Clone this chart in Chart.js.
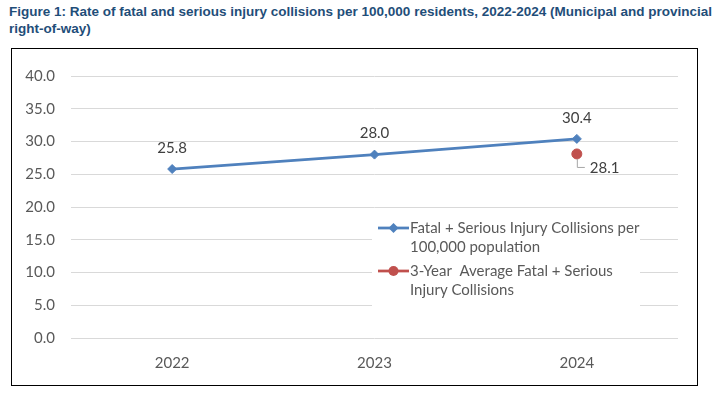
<!DOCTYPE html>
<html>
<head>
<meta charset="UTF-8">
<title>Figure 1</title>
<script src="https://cdn.jsdelivr.net/npm/chart.js"></script>
<style>
  body { margin: 0; background: #fff; }
  #title {
    position: absolute; left: 9px; top: 3px; width: 716px;
    font: bold 13.5px "Liberation Sans", Arial, sans-serif;
    color: #1F4E79; line-height: 17px;
  }
  #box {
    position: absolute; left: 11px; top: 48px;
    width: 685px; height: 336px; border: 1px solid #000;
  }
  canvas { display: block; }
</style>
</head>
<body>
<div id="title">Figure 1: Rate of fatal and serious injury collisions per 100,000 residents, 2022-2024 (Municipal and provincial<br>right-of-way)</div>
<div id="box"><canvas id="myChart" width="685" height="336"></canvas></div>

<script>
const years = ["2022", "2023", "2024"];
const rateValues = [25.8, 28.0, 30.4];
const averageValues = [null, null, 28.1];
const yTicks = [0, 5, 10, 15, 20, 25, 30, 35, 40];
const seriesNames = [
  ["Fatal + Serious Injury Collisions per", "100,000 population"],
  ["3-Year  Average Fatal + Serious", "Injury Collisions"]
];

const blue = "#4F81BD";
const red = "#C0504D";
const textGrey = "#595959";
const font = "Lato, 'Open Sans', sans-serif";

// value labels (no datalabels plugin available)
const valueLabels = {
  id: "valueLabels",
  afterDatasetsDraw(chart) {
    const ctx = chart.ctx;
    ctx.save();
    ctx.font = "15px " + font;
    ctx.fillStyle = "#404040";
    ctx.textAlign = "center";
    ctx.textBaseline = "middle";
    chart.getDatasetMeta(0).data.forEach((pt, i) => {
      ctx.fillText(rateValues[i].toFixed(1), pt.x, pt.y - 21);
    });
    chart.getDatasetMeta(1).data.forEach((pt, i) => {
      if (averageValues[i] == null) return;
      ctx.strokeStyle = "#A6A6A6";
      ctx.lineWidth = 1;
      ctx.beginPath();
      ctx.moveTo(pt.x + 0.5, pt.y + 5);
      ctx.lineTo(pt.x + 0.5, pt.y + 13.5);
      ctx.lineTo(pt.x + 8, pt.y + 13.5);
      ctx.stroke();
      ctx.textAlign = "left";
      ctx.fillText(averageValues[i].toFixed(1), pt.x + 13, pt.y + 14);
    });
    ctx.restore();
  }
};

// legend sitting inside the plot, with white background
const insideLegend = {
  id: "insideLegend",
  afterDraw(chart) {
    const ctx = chart.ctx;
    const a = chart.chartArea;
    const x = a.left + 307;
    const y = a.top + 152;
    ctx.save();
    ctx.fillStyle = "#fff";
    ctx.fillRect(x - 6, y - 16, 268, 95);
    ctx.font = "15px " + font;
    ctx.textBaseline = "middle";
    ctx.textAlign = "left";
    const colors = [blue, red];
    seriesNames.forEach((lines, k) => {
      const ly = y + k * 43;
      ctx.strokeStyle = colors[k];
      ctx.lineWidth = 2.75;
      ctx.beginPath();
      ctx.moveTo(x, ly);
      ctx.lineTo(x + 31, ly);
      ctx.stroke();
      ctx.fillStyle = colors[k];
      ctx.beginPath();
      if (k) ctx.arc(x + 15.5, ly, 5, 0, Math.PI * 2);
      else { ctx.moveTo(x + 15.5, ly - 5); ctx.lineTo(x + 20.5, ly); ctx.lineTo(x + 15.5, ly + 5); ctx.lineTo(x + 10.5, ly); }
      ctx.fill();
      ctx.fillStyle = textGrey;
      lines.forEach((t, j) => ctx.fillText(t, x + 32, ly + j * 19));
    });
    ctx.restore();
  }
};

new Chart(document.getElementById("myChart"), {
  type: "line",
  data: {
    labels: years,
    datasets: [{
      label: seriesNames[0].join(" "),
      data: rateValues,
      borderColor: blue,
      backgroundColor: blue,
      borderWidth: 2.75,
      pointStyle: "rectRot",
      pointRadius: 4.5,
      pointBorderWidth: 1
    }, {
      label: seriesNames[1].join(" "),
      data: averageValues,
      borderColor: red,
      backgroundColor: red,
      showLine: false,
      pointStyle: "circle",
      pointRadius: 5,
      pointBorderWidth: 1
    }]
  },
  options: {
    responsive: false,
    animation: false,
    layout: { padding: { top: 27, left: 8, right: 19, bottom: 5 } },
    plugins: { legend: { display: false }, tooltip: { enabled: false } },
    scales: {
      y: {
        min: 0, max: 40,
        afterBuildTicks: (s) => { s.ticks = yTicks.map(v => ({ value: v })); },
        afterFit: (s) => { s.width = 51; },
        border: { display: false },
        grid: { color: "#D9D9D9", drawTicks: false },
        ticks: {
          padding: 16, color: textGrey,
          font: { family: font, size: 15 },
          callback: (v) => Number(v).toFixed(1)
        }
      },
      x: {
        offset: true,
        border: { display: false },
        grid: { display: false },
        ticks: { padding: 8, color: textGrey, font: { family: font, size: 15 } }
      }
    }
  },
  plugins: [valueLabels, insideLegend]
});
</script>
</body>
</html>
